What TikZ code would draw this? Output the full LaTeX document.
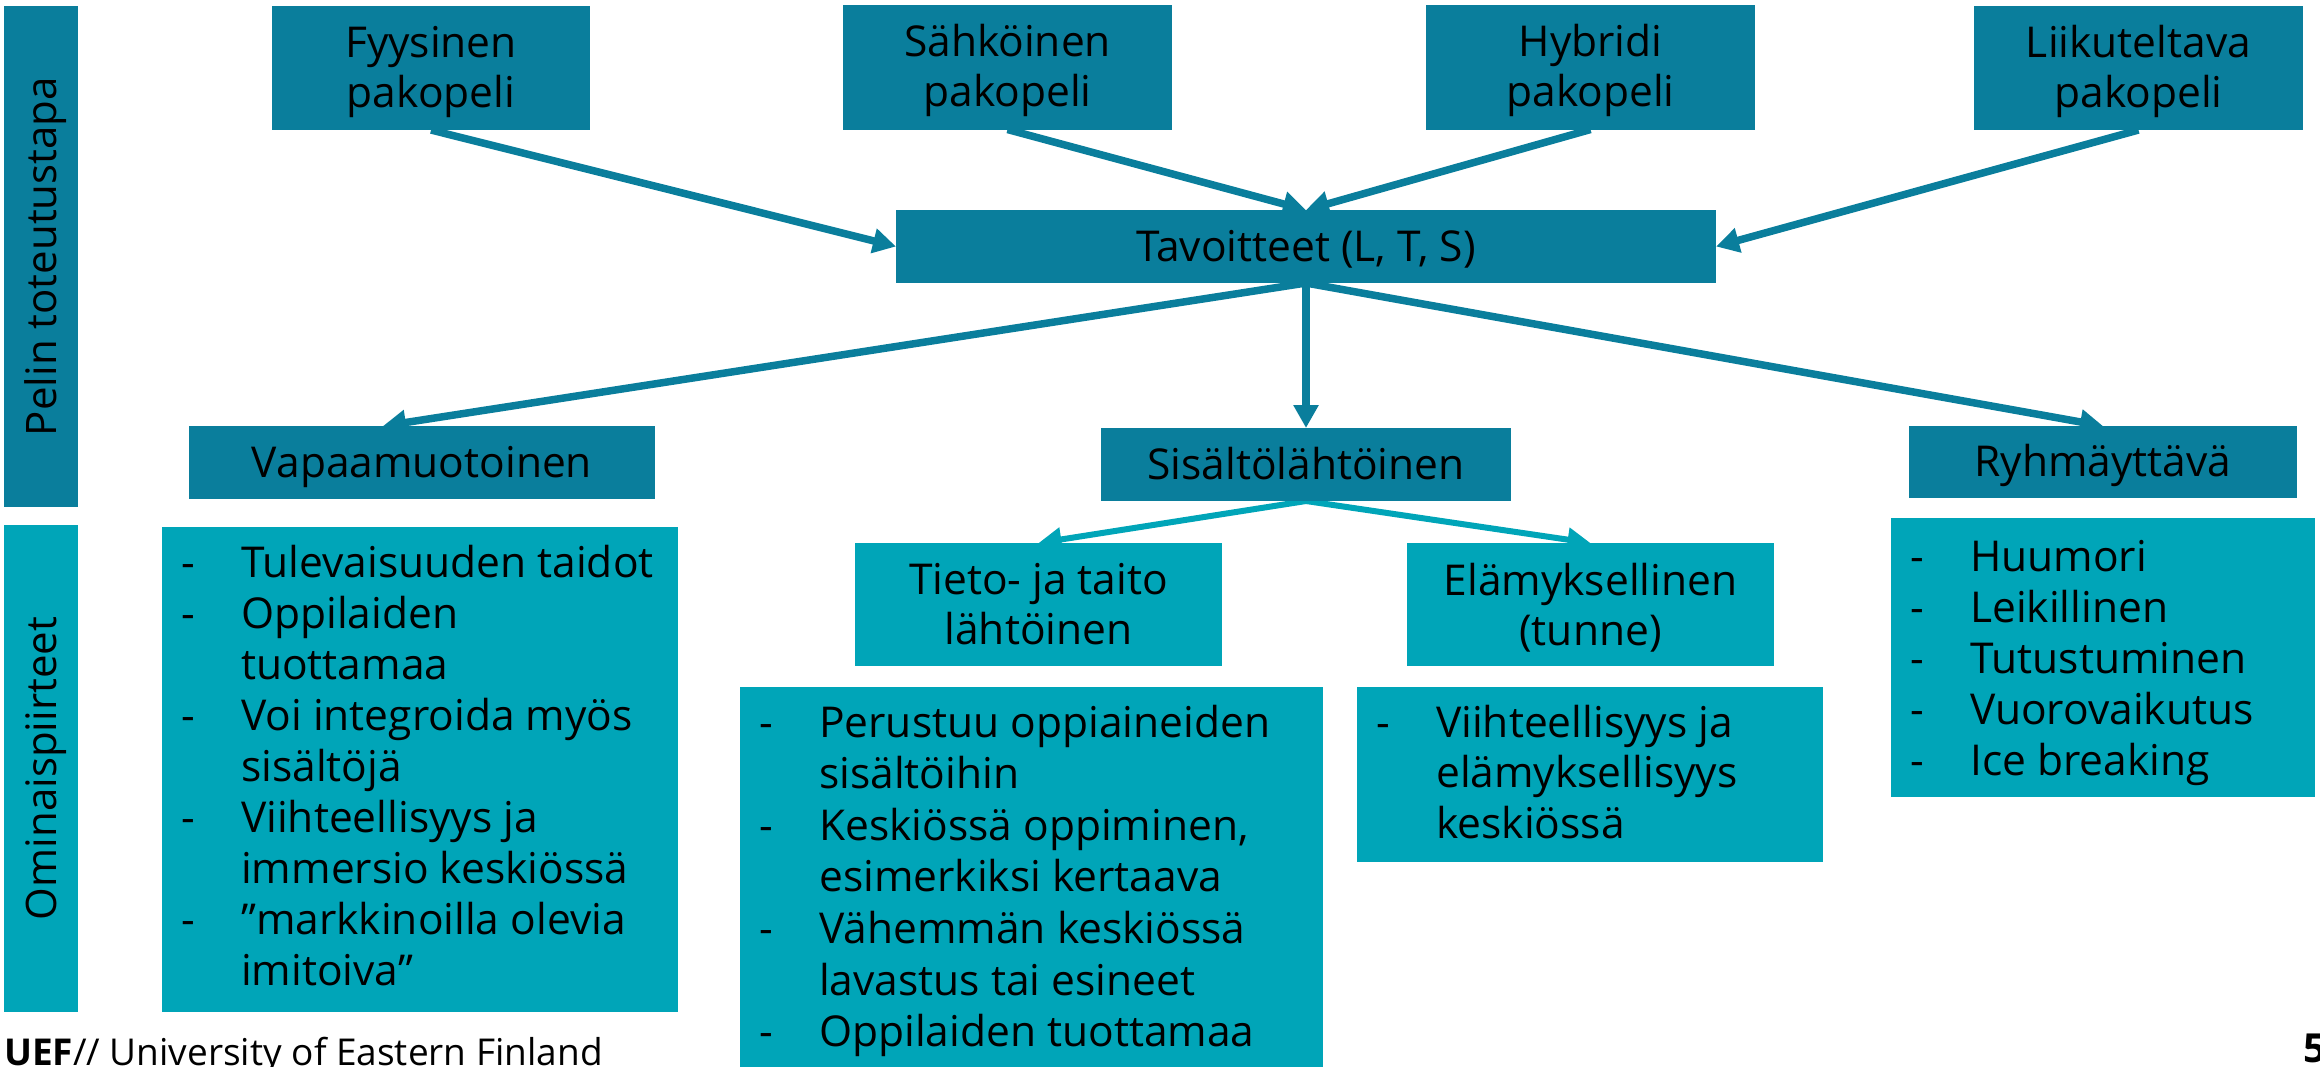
\documentclass[tikz,border=0pt]{standalone}
\usepackage{fontspec}
\setmainfont{Open Sans}
\usetikzlibrary{arrows.meta}
\definecolor{uefdark}{RGB}{10,126,156}
\definecolor{ueflight}{RGB}{0,165,184}
\pgfdeclarelayer{bg}
\pgfsetlayers{bg,main}
\newcommand{\dsh}{\makebox[60pt][l]{-}}
\newcommand{\ind}{\hspace*{60pt}}
\begin{document}
\begin{tikzpicture}[x=1pt,y=-1pt,
  dbox/.style={rectangle,fill=uefdark,draw=none,inner sep=0pt,outer sep=0pt},
  lbox/.style={rectangle,fill=ueflight,draw=none,inner sep=0pt,outer sep=0pt},
  btxt/.style={font=\fontsize{42.5}{50}\selectfont,inner sep=0pt,anchor=base,text=black},
  vtxt/.style={font=\fontsize{42}{50}\selectfont,inner sep=0pt,anchor=base,text=black,rotate=90},
  ltxt/.style={font=\fontsize{42.5}{51}\selectfont,inner sep=0pt,anchor=base west,text=black},
  darr/.style={draw=uefdark,line width=7.5pt,-{Triangle[length=23pt,width=24pt]}},
  larr/.style={draw=ueflight,line width=6pt,-{Triangle[length=23pt,width=23pt]}}]
\useasboundingbox (0,0) rectangle (2320,1066);

% side bars
\node[dbox,minimum width=74pt,minimum height=501pt] (barA) at (41,256.5) {};
\node[lbox,minimum width=74pt,minimum height=487pt] (barB) at (41,768.5) {};
\node[vtxt] (barAt) at (56,256.5) {Pelin toteutustapa};
\node[vtxt] (barBt) at (56,768.5) {Ominaispiirteet};

% top row
\node[dbox,minimum width=318pt,minimum height=124pt] (fyys) at (431,68) {};
\node[dbox,minimum width=329pt,minimum height=125pt] (sahk) at (1007.5,67) {};
\node[dbox,minimum width=329pt,minimum height=125pt] (hybr) at (1590.5,67) {};
\node[dbox,minimum width=329pt,minimum height=124pt] (liik) at (2138.5,68) {};
\node[btxt] (fyyst) at ([yshift=11pt]fyys.center) {\begin{tabular}[t]{@{}c@{}}Fyysinen\\pakopeli\end{tabular}};
\node[btxt] (sahkt) at ([yshift=11pt]sahk.center) {\begin{tabular}[t]{@{}c@{}}Sähköinen\\pakopeli\end{tabular}};
\node[btxt] (hybrt) at ([yshift=11pt]hybr.center) {\begin{tabular}[t]{@{}c@{}}Hybridi\\pakopeli\end{tabular}};
\node[btxt] (liikt) at ([yshift=11pt]liik.center) {\begin{tabular}[t]{@{}c@{}}Liikuteltava\\pakopeli\end{tabular}};

% middle
\node[dbox,minimum width=820pt,minimum height=73pt] (tavo) at (1306,246.5) {};
\node[btxt] (tavot) at ([yshift=-14.5pt]tavo.center) {Tavoitteet (L, T, S)};

\node[dbox,minimum width=466pt,minimum height=73pt] (vapa) at (422,462.5) {};
\node[btxt] (vapat) at ([yshift=-14.5pt]vapa.center) {Vapaamuotoinen};
\node[dbox,minimum width=410pt,minimum height=73pt] (sis) at (1306,464.5) {};
\node[btxt] (sist) at ([yshift=-14.5pt]sis.center) {Sisältölähtöinen};
\node[dbox,minimum width=388pt,minimum height=72pt] (ryhm) at (2103,462) {};
\node[btxt] (ryhmt) at ([yshift=-14.5pt]ryhm.center) {Ryhmäyttävä};

% sub categories
\node[lbox,minimum width=367pt,minimum height=123pt] (tieto) at (1038.5,604.5) {};
\node[btxt] (tietot) at ([yshift=10.5pt]tieto.center) {\begin{tabular}[t]{@{}c@{}}Tieto- ja taito\\lähtöinen\end{tabular}};
\node[lbox,minimum width=367pt,minimum height=123pt] (elam) at (1590.5,604.5) {};
\node[btxt] (elamt) at ([yshift=9.5pt]elam.center) {\begin{tabular}[t]{@{}c@{}}Elämyksellinen\\(tunne)\end{tabular}};

% lists
\node[lbox,minimum width=516pt,minimum height=485pt] (vapal) at (420,769.5) {};
\node[ltxt] (vapalt) at (181,577) {\begin{tabular}[t]{@{}l@{}}
\dsh Tulevaisuuden taidot\\
\dsh Oppilaiden\\
\ind tuottamaa\\
\dsh Voi integroida myös\\
\ind sisältöjä\\
\dsh Viihteellisyys ja\\
\ind immersio keskiössä\\
\dsh ”markkinoilla olevia\\
\ind imitoiva”\end{tabular}};

\node[lbox,minimum width=583pt,minimum height=383pt] (tietol) at (1031.5,878.5) {};
\node[ltxt,font=\fontsize{42.5}{51.6}\selectfont] (tietolt) at (759,737) {\begin{tabular}[t]{@{}l@{}}
\dsh Perustuu oppiaineiden\\
\ind sisältöihin\\
\dsh Keskiössä oppiminen,\\
\ind esimerkiksi kertaava\\
\dsh Vähemmän keskiössä\\
\ind lavastus tai esineet\\
\dsh Oppilaiden tuottamaa\end{tabular}};

\node[lbox,minimum width=466pt,minimum height=175pt] (elaml) at (1590,774.5) {};
\node[ltxt,font=\fontsize{42.5}{50.5}\selectfont] (elamlt) at (1376,737) {\begin{tabular}[t]{@{}l@{}}
\dsh Viihteellisyys ja\\
\ind elämyksellisyys\\
\ind keskiössä\end{tabular}};

\node[lbox,minimum width=424pt,minimum height=279pt] (ryhml) at (2103,657.5) {};
\node[ltxt] (ryhmlt) at (1910,571) {\begin{tabular}[t]{@{}l@{}}
\dsh Huumori\\
\dsh Leikillinen\\
\dsh Tutustuminen\\
\dsh Vuorovaikutus\\
\dsh Ice breaking\end{tabular}};

% footer
\node[anchor=base west,inner sep=0pt,font=\fontsize{37}{44}\selectfont] (footer) at (4,1065) {\textbf{UEF}// University of Eastern Finland};
\node[anchor=base west,inner sep=0pt,font=\fontsize{40}{48}\selectfont\bfseries] (pnum) at (2303,1062) {5};

% connectors
\begin{pgfonlayer}{bg}
\draw[darr] (fyys.south) -- (tavo.west);
\draw[darr] (sahk.south) -- (tavo.north);
\draw[darr] (hybr.south) -- (tavo.north);
\draw[darr] (liik.south) -- (tavo.east);
\draw[darr] (tavo.south) -- ([xshift=-39pt]vapa.north);
\draw[darr] (tavo.south) -- (sis.north);
\draw[darr] (tavo.south) -- (ryhm.north);
\draw[larr] (sis.south) -- (tieto.north);
\draw[larr] (sis.south) -- (elam.north);
\end{pgfonlayer}
\end{tikzpicture}
\end{document}
